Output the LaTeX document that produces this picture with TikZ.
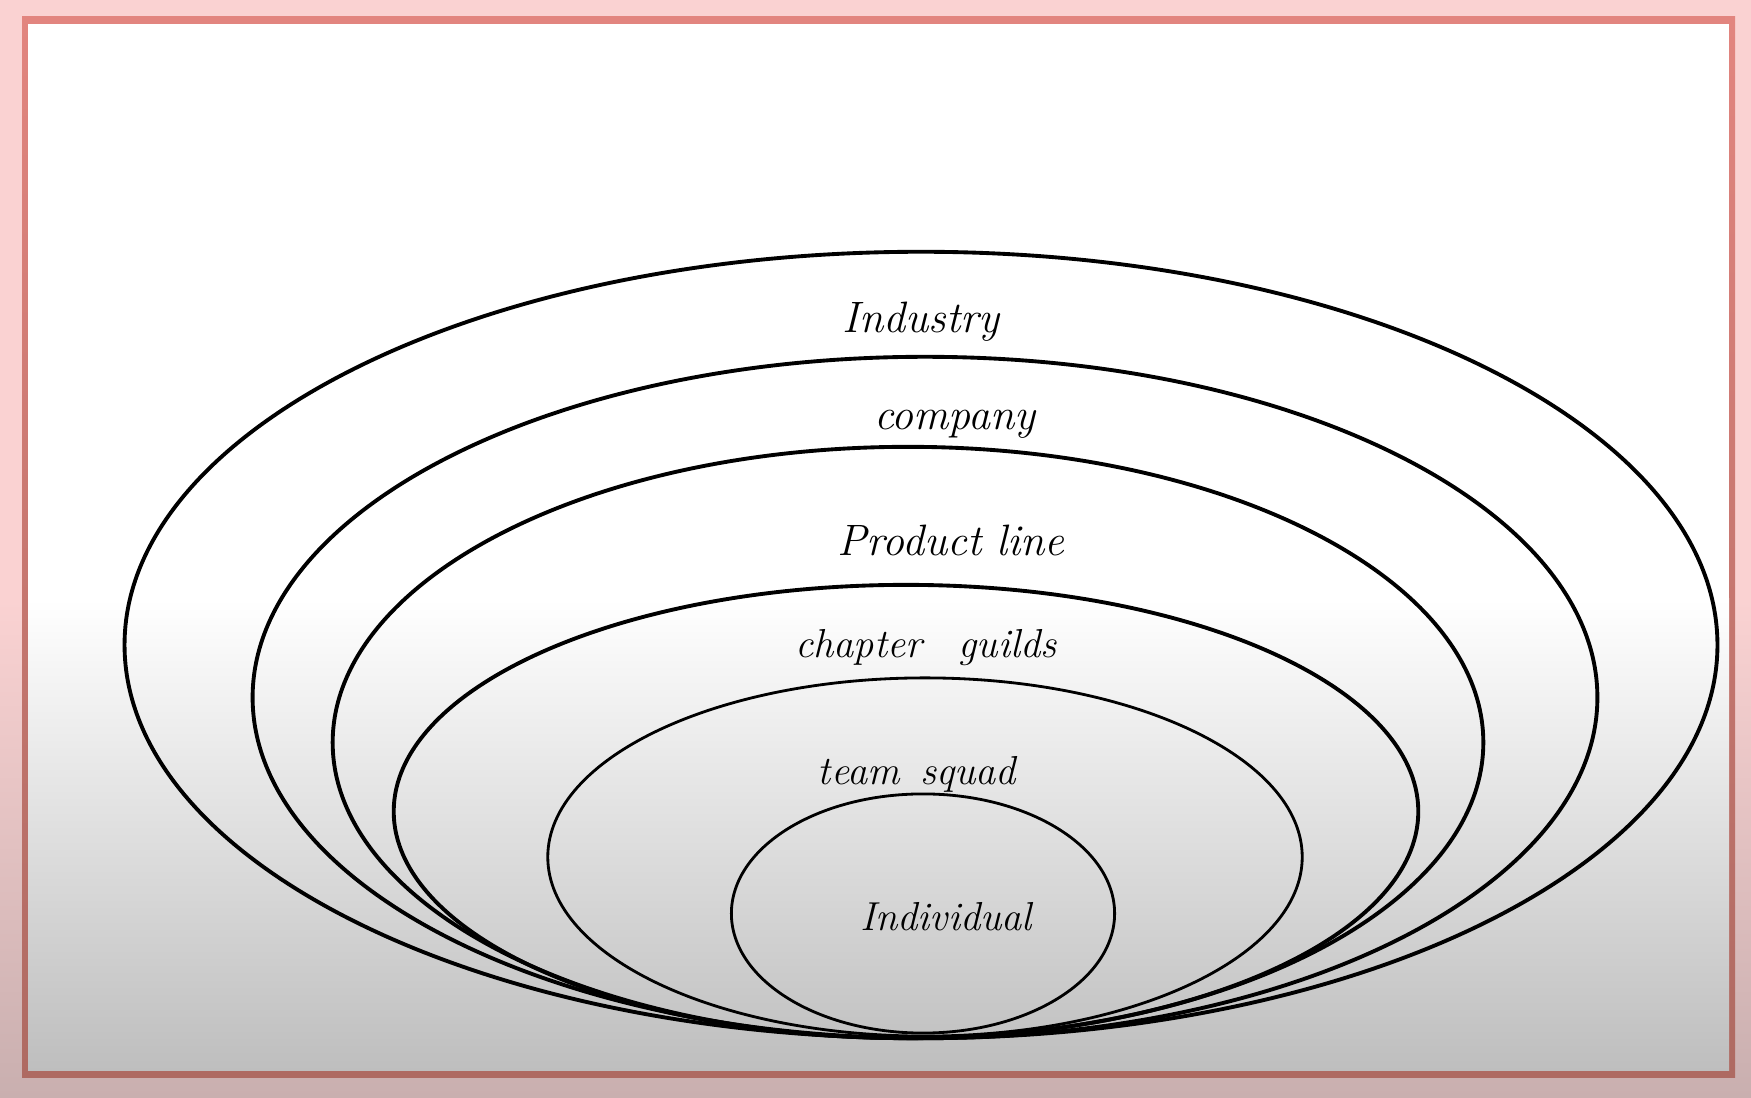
\documentclass[tikz,border=0pt]{standalone}
\usetikzlibrary{shapes.geometric}
\definecolor{pinkbg}{HTML}{FAD2D2}
\definecolor{pinkbgdark}{HTML}{C9AFAF}
\definecolor{frametop}{HTML}{E2857F}
\definecolor{framebot}{HTML}{AE6A62}
\definecolor{greybot}{HTML}{BEBEBE}
\tikzset{
  ring/.style={draw=black, line width=1.1pt},
  thinring/.style={draw=black, line width=0.8pt},
  lbl/.style={font=\fontsize{12.5}{14}\selectfont\itshape, inner sep=0pt},
  smalllbl/.style={font=\fontsize{11.5}{13}\selectfont\itshape, inner sep=0pt}
}
\begin{document}
\begin{tikzpicture}[x=0.01cm, y=-0.01cm]
\useasboundingbox (0,0) rectangle (1751,1098);
% outer pink background
\fill[pinkbg] (0,0) rectangle (1751,600);
\shade[top color=pinkbg, bottom color=pinkbgdark] (0,599) rectangle (1751,1098);
% frame
\shade[top color=frametop, bottom color=framebot] (22,17) rectangle (1735,1078);
% interior
\fill[white] (28,24) rectangle (1729,600);
\shade[top color=white, bottom color=greybot] (28,599) rectangle (1729,1071);
% nested ellipses
\draw[ring] (921,645) ellipse [x radius=7.96cm, y radius=3.93cm];
\draw[ring] (925,697.5) ellipse [x radius=6.72cm, y radius=3.405cm];
\draw[ring] (908,742.5) ellipse [x radius=5.75cm, y radius=2.955cm];
\draw[ring] (906,811.5) ellipse [x radius=5.12cm, y radius=2.265cm];
\draw[thinring] (925,857) ellipse [x radius=3.77cm, y radius=1.79cm];
\draw[thinring] (923,913.5) ellipse [x radius=1.915cm, y radius=1.195cm];
% labels
\node[lbl] (industry) at (921,322) {Industry};
\node[lbl] (company) at (955,424) {company};
\node[lbl] (product) at (951,540) {Product line};
\node[smalllbl] (chapter) at (926,648) {chapter\hspace{0.9em}guilds};
\node[smalllbl] (team) at (917,774) {team\hspace{0.5em}squad};
\node[smalllbl] (individual) at (946,917) {Individual};
\end{tikzpicture}
\end{document}
